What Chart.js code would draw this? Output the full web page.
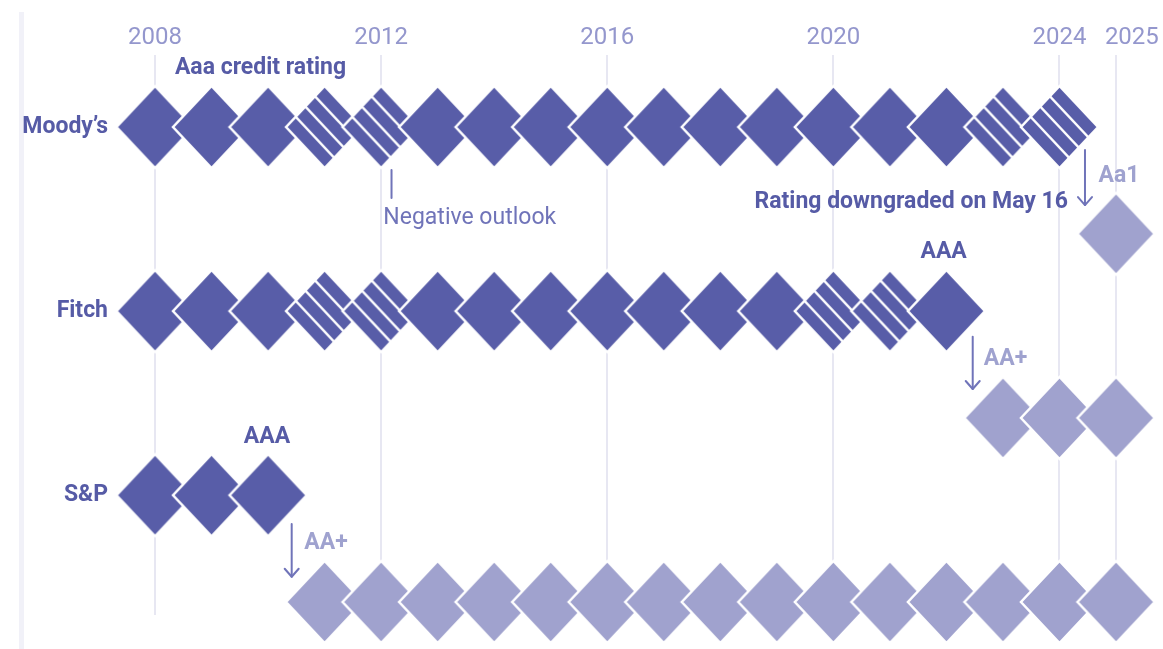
<!DOCTYPE html>
<html>
<head>
<meta charset="utf-8">
<script src="https://cdn.jsdelivr.net/npm/chart.js@4.4.1/dist/chart.umd.min.js"></script>
<style>
  html, body { margin: 0; padding: 0; background: #ffffff; }
  #wrap { position: relative; width: 1163px; height: 649px; overflow: hidden; }
  #edge { position: absolute; left: 19px; top: 12px; width: 5px; bottom: 0; background: #f1f1f8; }
  #c { position: absolute; left: 0; top: 0; }
</style>
</head>
<body>
<div id="wrap"><div id="edge"></div><canvas id="c" width="1163" height="649"></canvas></div>
<script>
// ---------------- DATA ----------------
const years = [2008, 2009, 2010, 2011, 2012, 2013, 2014, 2015, 2016, 2017, 2018, 2019, 2020, 2021, 2022, 2023, 2024, 2025];
const agencies = ["Moody\u2019s", "Fitch", "S&P"];
const topRatings = ["Aaa", "AAA", "AAA"];
const moodysRatings = ["Aaa","Aaa","Aaa","Aaa","Aaa","Aaa","Aaa","Aaa","Aaa","Aaa","Aaa","Aaa","Aaa","Aaa","Aaa","Aaa","Aaa","Aa1"];
const fitchRatings  = ["AAA","AAA","AAA","AAA","AAA","AAA","AAA","AAA","AAA","AAA","AAA","AAA","AAA","AAA","AAA","AA+","AA+","AA+"];
const spRatings     = ["AAA","AAA","AAA","AA+","AA+","AA+","AA+","AA+","AA+","AA+","AA+","AA+","AA+","AA+","AA+","AA+","AA+","AA+"];
const moodysNegativeOutlook = [2011, 2012, 2023, 2024];
const fitchNegativeOutlook  = [2011, 2012, 2020, 2021];
const spNegativeOutlook     = [];
const gridYears  = [2008, 2012, 2016, 2020, 2024, 2025];
const tickLabels = ["2008", "2012", "2016", "2020", "2024", "2025"];

// ---------------- STYLE ----------------
const DARK = '#585da8', LIGHT = '#a0a2ce';
const TEXT_DARK = '#565ba6', TEXT_LIGHT = '#9fa2cf', MID = '#7074b9';
const GRID = '#e7e7f2', AXIS_LABEL = '#9497cd';
const FONT = 'Roboto';
const DOWN_OFFSET = 0.58;          // lower row (downgraded) offset in row units
const X_MIN = 2007.2924, X_MAX = 2025.831;
const Y_MIN = -0.3911, Y_MAX = 2.6507;
const LAST_LABEL_NUDGE = 0.28;

function makeDiamond(fill, hatched) {
  const a = 38.5, b = 41, pad = 3;
  const c = document.createElement('canvas');
  c.width = Math.round(2 * a + 2 * pad);
  c.height = Math.round(2 * b + 2 * pad);
  const g = c.getContext('2d');
  const cx = c.width / 2, cy = c.height / 2;
  const path = () => {
    g.beginPath();
    g.moveTo(cx, cy - b); g.lineTo(cx + a, cy); g.lineTo(cx, cy + b); g.lineTo(cx - a, cy);
    g.closePath();
  };
  path(); g.fillStyle = fill; g.fill();
  if (hatched) {
    g.save(); path(); g.clip();
    g.strokeStyle = '#ffffff'; g.lineWidth = 2.4;
    [0.25, 0.5, 0.75].forEach(t => {
      const px = cx + a / 2 - t * a, py = cy - b / 2 + t * b;
      g.beginPath(); g.moveTo(px - a, py - b); g.lineTo(px + a, py + b); g.stroke();
    });
    g.restore();
  }
  path(); g.strokeStyle = '#ffffff'; g.lineWidth = 2.5; g.stroke();
  return c;
}
const solidDark = makeDiamond(DARK, false);
const hatchDark = makeDiamond(DARK, true);
const solidLight = makeDiamond(LIGHT, false);

const ratingsByAgency = [moodysRatings, fitchRatings, spRatings];
const negByAgency = [moodysNegativeOutlook, fitchNegativeOutlook, spNegativeOutlook];

const datasets = [];
agencies.forEach((name, i) => {
  const r = ratingsByAgency[i];
  const top = [], down = [];
  years.forEach((yr, k) => {
    if (r[k] === topRatings[i]) top.push({ x: yr, y: i, neg: negByAgency[i].includes(yr) });
    else down.push({ x: yr, y: i + DOWN_OFFSET, neg: false });
  });
  datasets.push({
    label: name + ' ' + topRatings[i], data: top, clip: false,
    pointRadius: 38, pointBorderWidth: 0,
    pointStyle: ctx => (ctx.raw && ctx.raw.neg) ? hatchDark : solidDark
  });
  datasets.push({
    label: name + ' downgraded', data: down, clip: false,
    pointRadius: 38, pointBorderWidth: 0,
    pointStyle: solidLight
  });
});

// annotations in data coordinates (year, row units)
const notes = [
  { text: 'Aaa credit rating', x: 2009.866, y: -0.288, align: 'center', bold: true, color: TEXT_DARK },
  { text: 'Negative outlook', x: 2012.039, y: 0.527, align: 'left', bold: false, color: MID },
  { text: 'Rating downgraded on May 16', x: 2024.15, y: 0.440, align: 'right', bold: true, color: TEXT_DARK },
  { text: 'Aa1', x: 2024.69, y: 0.298, align: 'left', bold: true, color: TEXT_LIGHT },
  { text: 'AAA', x: 2021.95, y: 0.712, align: 'center', bold: true, color: TEXT_DARK },
  { text: 'AA+', x: 2022.66, y: 1.293, align: 'left', bold: true, color: TEXT_LIGHT },
  { text: 'AAA', x: 2009.98, y: 1.716, align: 'center', bold: true, color: TEXT_DARK },
  { text: 'AA+', x: 2010.64, y: 2.292, align: 'left', bold: true, color: TEXT_LIGHT }
];
const marks = [
  { x: 2012.184, y1: 0.234, y2: 0.386, arrow: false, color: MID },
  { x: 2024.451, y1: 0.125, y2: 0.424, arrow: true, color: MID },
  { x: 2022.465, y1: 1.139, y2: 1.423, arrow: true, color: MID },
  { x: 2010.418, y1: 2.156, y2: 2.443, arrow: true, color: MID }
];

const notesPlugin = {
  id: 'notes',
  afterDatasetsDraw(chart) {
    const g = chart.ctx, xs = chart.scales.x, ys = chart.scales.y;
    g.save();
    marks.forEach(m => {
      const x = xs.getPixelForValue(m.x), y1 = ys.getPixelForValue(m.y1), y2 = ys.getPixelForValue(m.y2);
      g.strokeStyle = m.color; g.lineWidth = 2; g.lineCap = 'round'; g.lineJoin = 'round';
      g.beginPath(); g.moveTo(x, y1); g.lineTo(x, y2); g.stroke();
      if (m.arrow) {
        g.beginPath(); g.moveTo(x - 7, y2 - 8); g.lineTo(x, y2); g.lineTo(x + 7, y2 - 8); g.stroke();
      }
    });
    g.textBaseline = 'alphabetic';
    notes.forEach(n => {
      g.font = (n.bold ? 'bold ' : '') + '23px ' + FONT;
      g.fillStyle = n.color; g.textAlign = n.align;
      g.fillText(n.text, xs.getPixelForValue(n.x), ys.getPixelForValue(n.y));
    });
    g.restore();
  }
};

const noPad = s => { s.paddingLeft = 0; s.paddingRight = 0; };

new Chart(document.getElementById('c'), {
  type: 'scatter',
  data: { datasets },
  options: {
    responsive: false, animation: false, events: [], devicePixelRatio: 1,
    layout: { padding: { top: 0, left: 0, right: 0, bottom: 34 }, autoPadding: false },
    plugins: { legend: { display: false }, tooltip: { enabled: false } },
    scales: {
      x: {
        type: 'linear', position: 'top', min: X_MIN, max: X_MAX,
        afterBuildTicks: s => { s.ticks = gridYears.map(v => ({ value: v })); },
        ticks: { display: false },
        grid: { color: GRID, lineWidth: 2, drawTicks: false },
        border: { display: false },
        afterFit: s => { s.height = 0; noPad(s); }
      },
      xl: {
        type: 'linear', position: 'top', min: X_MIN, max: X_MAX,
        afterBuildTicks: s => {
          s.ticks = gridYears.map((v, i) => ({ value: i === gridYears.length - 1 ? v + LAST_LABEL_NUDGE : v }));
        },
        ticks: {
          autoSkip: false, maxRotation: 0, padding: 3, color: AXIS_LABEL,
          font: { family: FONT, size: 24 },
          callback: (v, i) => tickLabels[i]
        },
        grid: { display: false, drawTicks: false },
        border: { display: false },
        afterFit: s => { s.height = 55; noPad(s); }
      },
      y: {
        type: 'linear', reverse: true, min: Y_MIN, max: Y_MAX,
        afterBuildTicks: s => { s.ticks = agencies.map((a, i) => ({ value: i })); },
        ticks: {
          autoSkip: false, padding: 7, color: TEXT_DARK,
          font: { family: FONT, size: 23, weight: 'bold' },
          callback: (v, i) => agencies[i]
        },
        grid: { display: false, drawTicks: false },
        border: { display: false },
        afterFit: s => { s.width = 115; s.paddingTop = 0; s.paddingBottom = 0; }
      }
    }
  },
  plugins: [notesPlugin]
});
</script>
</body>
</html>
